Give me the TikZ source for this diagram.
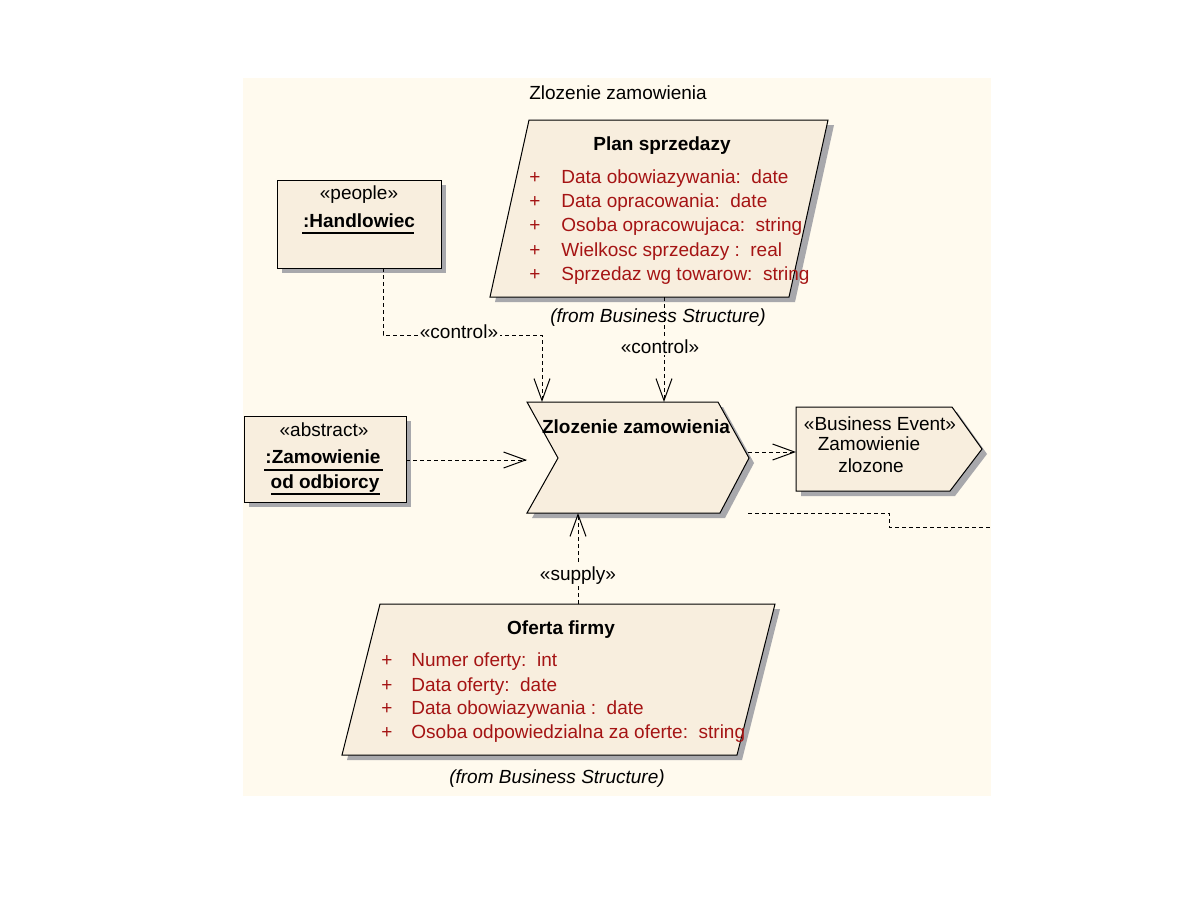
\documentclass[tikz,border=0pt]{standalone}
\usepackage{fontspec}
\setmainfont{Liberation Sans}
\usetikzlibrary{arrows.meta}
\definecolor{panel}{RGB}{255,250,238}
\definecolor{shapefill}{RGB}{248,238,222}
\definecolor{attr}{RGB}{165,20,20}
\definecolor{shadowc}{RGB}{168,168,172}
\begin{document}
\begin{tikzpicture}[x=0.5pt,y=-0.5pt,
  shapebox/.style={draw=black, fill=shapefill, line width=0.5pt},
  shadowbox/.style={fill=shadowc, draw=none},
  txt/.style={inner sep=0pt, anchor=base, font=\fontsize{9.5}{11}\selectfont},
  btxt/.style={inner sep=0pt, anchor=base, font=\fontsize{9.5}{11}\selectfont\bfseries},
  itxt/.style={inner sep=0pt, anchor=base, font=\fontsize{9.5}{11}\selectfont\itshape},
  attrtxt/.style={inner sep=0pt, anchor=base west, text=attr, font=\fontsize{9.5}{11}\selectfont},
  plustxt/.style={inner sep=0pt, anchor=base, text=attr, font=\fontsize{9.5}{11}\selectfont},
  lbl/.style={inner sep=1pt, anchor=base, fill=panel, font=\fontsize{9.5}{11}\selectfont},
  dashline/.style={draw=black, line width=0.5pt, dash pattern=on 2pt off 1.5pt},
  dep/.style={dashline, -{Straight Barb[length=11pt,width=8pt]}},
  uline/.style={draw=black, line width=0.6pt}
]
\useasboundingbox (0,0) rectangle (1188,918);
\fill[white] (0,0) rectangle (1188,918);
\fill[panel] (243,78) rectangle (991,796);

\node[txt] (title) at (618,99) {Zlozenie zamowienia};

% ---------- Handlowiec ----------
\fill[shadowbox] (282,185) rectangle (446,273);
\draw[shapebox] (277,180) rectangle (441,268);
\node[txt] (handst) at (359,199) {«people»};
\node[btxt] (handname) at (359,227) {:Handlowiec};
\draw[uline] (302,233) -- (414,233);

% ---------- Plan sprzedazy ----------
\fill[shadowbox] (534,125) -- (834,125) -- (795,302) -- (495,302) -- cycle;
\draw[shapebox] (529,120) -- (828,120) -- (789,297) -- (490,297) -- cycle;
\node[btxt] (plantitle) at (662,150) {Plan sprzedazy};
\foreach \yy/\tt in {183/{Data obowiazywania:\ \ date},207/{Data opracowania:\ \ date},231/{Osoba opracowujaca:\ \ string},256/{Wielkosc sprzedazy :\ \ real},280/{Sprzedaz wg towarow:\ \ string}}{
  \node[plustxt] at (535,\yy) {+};
  \node[attrtxt] at (561,\yy) {\tt};
}
\node[itxt] (planfrom) at (658,322) {(from Business Structure)};

% ---------- Zamowienie od odbiorcy ----------
\fill[shadowbox] (249,421) rectangle (411,507);
\draw[shapebox] (244,416) rectangle (406,502);
\node[txt] (absst) at (324,436) {«abstract»};
\node[btxt] (absname1) at (323,463) {:Zamowienie};
\draw[uline] (264,470) -- (383,470);
\node[btxt] (absname2) at (325,488) {od odbiorcy};
\draw[uline] (271,494) -- (380,494);

% ---------- Zlozenie zamowienia (process) ----------
\fill[shadowbox] (532,407) -- (723,407) -- (754,463) -- (725,518) -- (532,518) -- (563,463) -- cycle;
\draw[shapebox] (527,402) -- (718,402) -- (749,458) -- (720,513) -- (527,513) -- (558,458) -- cycle;
\node[btxt] (proctitle) at (636,433) {Zlozenie zamowienia};

% ---------- Business Event ----------
\fill[shadowbox] (801,412) -- (957,412) -- (987,454) -- (955,496) -- (801,496) -- cycle;
\draw[shapebox] (796,407) -- (952,407) -- (982,449) -- (950,491) -- (796,491) -- cycle;
\node[txt] (evst) at (880,430) {«Business Event»};
\node[txt] (evname1) at (869,450) {Zamowienie};
\node[txt] (evname2) at (871,472) {zlozone};

% ---------- Oferta firmy ----------
\fill[shadowbox] (385,609) -- (780,609) -- (742,760) -- (347,760) -- cycle;
\draw[shapebox] (380,604) -- (775,604) -- (737,755) -- (342,755) -- cycle;
\node[btxt] (oftitle) at (561,634) {Oferta firmy};
\foreach \yy/\tt in {666/{Numer oferty:\ \ int},691/{Data oferty:\ \ date},714/{Data obowiazywania :\ \ date},738/{Osoba odpowiedzialna za oferte:\ \ string}}{
  \node[plustxt] at (387,\yy) {+};
  \node[attrtxt] at (411,\yy) {\tt};
}
\node[itxt] (offrom) at (557,783) {(from Business Structure)};

% ---------- connector points ----------
\coordinate (hand-s) at (383,268);
\coordinate (bend) at (460,335);
\coordinate (proc-n1) at (542,402);
\coordinate (plan-s) at (664,297);
\coordinate (proc-n2) at (664,402);
\coordinate (abs-e) at (406,460);
\coordinate (proc-w) at (527,460);
\coordinate (proc-e) at (748,452);
\coordinate (ev-w) at (796,452);
\coordinate (proc-se) at (748,513);
\coordinate (step1) at (889,513);
\coordinate (step2) at (889,527);
\coordinate (free) at (991,527);
\coordinate (of-n) at (578,604);
\coordinate (proc-s) at (578,513);

% ---------- connectors ----------
\draw[dep] (hand-s) -- (hand-s |- bend) -- (bend -| proc-n1) -- (proc-n1);
\node[lbl] (ctl1) at (459,338) {«control»};
\draw[dep] (plan-s) -- (proc-n2);
\node[lbl] (ctl2) at (660,353) {«control»};
\draw[dep] (abs-e) -- (proc-w);
\draw[dep] (proc-e) -- (ev-w);
\draw[dashline] (proc-se) -- (step1) -- (step2) -- (free);
\draw[dep] (of-n) -- (proc-s);
\node[lbl] (sup) at (578,580) {«supply»};
\end{tikzpicture}
\end{document}
